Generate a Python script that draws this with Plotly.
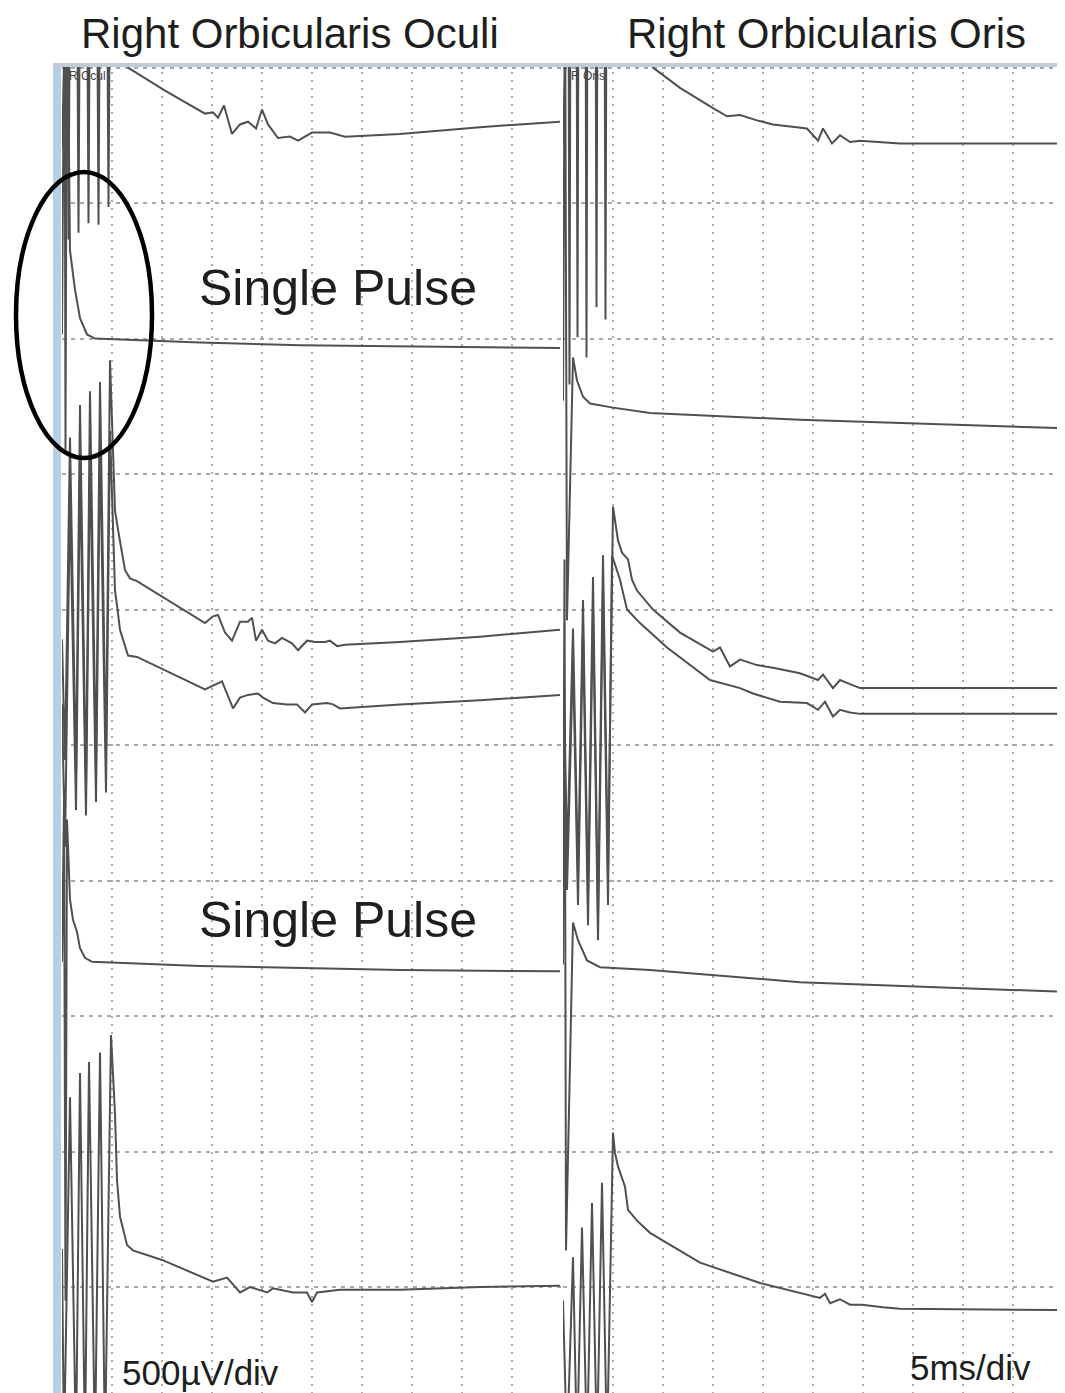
import plotly.graph_objects as go

# ---- Left panel: Right Orbicularis Oculi (time in ms, amplitude in µV incl. channel offset) ----
oculi_train1_t = [0, 0.5, 0.65, 0.8, 1.5, 1.65, 1.8, 2.5, 2.65, 2.8, 3.5, 3.65, 3.8, 4.5, 4.65, 4.8, 6.6, 10.3, 14.3,
                  15.1, 15.6, 16.2, 17.0, 17.8, 18.6, 19.4, 20.0, 20.6, 21.6, 22.8, 23.6, 25.0, 26.8, 28.3, 33.8, 41.8, 49.8]
oculi_train1_v = [-300, 400, -635, 400, 400, -610, 400, 400, -575, 400, 400, -580, 400, 400, -515, 400, 0, -85, -170,
                  -165, -185, -140, -245, -210, -200, -225, -155, -210, -260, -255, -270, -240, -240, -255, -245, -220, -200]

oculi_single1_t = [0, 0.25, 0.35, 0.5, 0.8, 1.3, 1.8, 2.5, 3.3, 13.8, 23.8, 49.8]
oculi_single1_v = [-985, 400, -1410, 400, -675, -820, -925, -985, -1000, -1015, -1025, -1035]

oculi_train2a_t = [0, 0.3, 0.8, 1.4, 1.8, 2.4, 2.8, 3.4, 3.8, 4.4, 4.8, 5.1, 5.3, 5.6, 6.3, 6.8, 7.5, 14.3, 15.1, 15.6,
                   16.3, 17.0, 17.8, 18.6, 19.0, 19.4, 20.0, 20.6, 21.3, 22.0, 23.0, 23.6, 24.5, 25.3, 26.3, 26.8, 27.5,
                   28.3, 33.8, 41.8, 49.8]
oculi_train2a_v = [-2110, -2555, -1365, -2610, -1245, -2665, -1195, -2590, -1160, -2555, -1080, -1450, -1635, -1705,
                   -1855, -1885, -1895, -2050, -2025, -2020, -2085, -2115, -2045, -2045, -2030, -2115, -2075, -2115,
                   -2125, -2105, -2125, -2150, -2115, -2120, -2120, -2115, -2135, -2130, -2120, -2100, -2075]

oculi_train2b_t = [0, 0.3, 0.8, 1.4, 1.8, 2.4, 2.8, 3.4, 3.8, 4.4, 4.8, 5.1, 5.3, 5.5, 5.8, 6.6, 7.5, 14.3, 16.0, 17.1,
                   17.8, 18.6, 19.6, 20.1, 21.1, 22.5, 23.5, 24.3, 25.0, 26.5, 27.1, 27.8, 33.8, 41.8, 49.8]
oculi_train2b_v = [-2350, -2875, -1595, -2740, -1485, -2760, -1435, -2710, -1400, -2675, -1340, -1745, -1930, -1985,
                   -2075, -2170, -2175, -2295, -2265, -2365, -2325, -2315, -2310, -2325, -2345, -2350, -2350, -2380,
                   -2350, -2345, -2350, -2365, -2350, -2335, -2315]

oculi_single2_t = [0, 0.2, 0.35, 0.5, 0.8, 1.1, 1.5, 1.8, 2.3, 3.0, 13.8, 33.8, 49.8]
oculi_single2_v = [-3300, -2705, -4550, -2775, -3070, -3145, -3190, -3250, -3285, -3300, -3315, -3330, -3335]

oculi_train3_t = [0, 0.2, 0.8, 1.4, 1.8, 2.3, 2.7, 3.3, 3.8, 4.3, 4.9, 5.3, 5.5, 5.8, 6.5, 7.1, 10.0, 15.1, 16.5, 17.8,
                  18.8, 20.5, 21.1, 23.1, 24.5, 25.0, 25.5, 26.8, 27.8, 33.8, 41.8, 49.8]
oculi_train3_v = [-4360, -5100, -3800, -5100, -3710, -5100, -3670, -5100, -3635, -5100, -3570, -3860, -4105, -4240,
                  -4345, -4365, -4400, -4480, -4465, -4520, -4500, -4520, -4505, -4520, -4520, -4555, -4520, -4515,
                  -4510, -4510, -4500, -4495]

# ---- Right panel: Right Orbicularis Oris ----
oris_train1_t = [0, 0.55, 0.65, 0.75, 1.35, 1.45, 1.55, 2.25, 2.35, 2.45, 3.25, 3.35, 3.45, 4.15, 4.25, 4.35, 9.0, 11.7,
                 15.0, 16.4, 17.7, 19.4, 21.0, 24.4, 25.5, 26.0, 26.9, 27.7, 28.7, 29.7, 33.7, 49.5]
oris_train1_v = [-280, 400, -1170, 400, 400, -995, 400, 400, -1070, 400, 400, -885, 400, 400, -930, 400, 0, -75,
                 -150, -180, -175, -195, -210, -225, -270, -225, -280, -250, -275, -270, -280, -280]

oris_single1_t = [0, 0.2, 0.4, 1.0, 1.4, 2.0, 2.7, 5.0, 8.7, 23.7, 49.5]
oris_single1_v = [-1230, 400, -2040, -1070, -1155, -1215, -1240, -1255, -1275, -1300, -1330]

oris_train2a_t = [0, 0.1, 0.4, 1.0, 1.5, 2.0, 2.5, 3.0, 3.5, 4.0, 4.5, 5.0, 5.5, 5.9, 6.5, 6.9, 7.4, 9.0, 11.7, 15.0,
                  15.7, 16.7, 17.7, 19.4, 21.0, 23.7, 25.5, 26.0, 27.0, 27.7, 28.7, 29.7, 33.7, 49.5]
oris_train2a_v = [-2295, -2260, -2925, -2070, -2985, -1965, -3070, -1880, -3135, -1800, -2985, -1620, -1745, -1790,
                  -1815, -1890, -1930, -2000, -2085, -2155, -2140, -2210, -2185, -2205, -2215, -2235, -2260, -2240,
                  -2290, -2260, -2275, -2290, -2290, -2290]

oris_train2b_t = [0, 0.1, 0.4, 1.0, 1.5, 2.0, 2.5, 3.0, 3.5, 4.0, 4.5, 4.9, 5.7, 6.4, 7.7, 10.4, 14.7, 17.7, 19.0,
                  21.7, 24.4, 25.5, 26.2, 27.0, 27.7, 28.7, 29.7, 33.7, 49.5]
oris_train2b_v = [-2385, -2350, -3035, -2180, -3090, -2075, -3165, -1990, -3220, -1910, -3090, -1800, -1890, -2000,
                  -2050, -2140, -2260, -2290, -2310, -2340, -2345, -2370, -2340, -2395, -2370, -2380, -2385, -2385,
                  -2385]

oris_single2_t = [0, 0.15, 0.3, 1.0, 1.5, 2.4, 3.7, 8.7, 23.7, 49.5]
oris_single2_v = [-3310, -1815, -4365, -3155, -3220, -3295, -3320, -3330, -3375, -3410]

oris_train3_t = [0, 0.4, 1.0, 1.4, 1.9, 2.4, 2.9, 3.4, 3.9, 4.4, 5.0, 5.2, 5.5, 6.2, 6.5, 7.4, 8.7, 13.7, 19.7, 23.7,
                 25.7, 26.2, 26.7, 27.7, 28.7, 29.9, 32.0, 33.7, 49.5]
oris_train3_v = [-4550, -5100, -4390, -5100, -4280, -5100, -4190, -5100, -4115, -5100, -3930, -4005, -4055, -4130,
                 -4215, -4255, -4300, -4410, -4485, -4520, -4540, -4525, -4560, -4545, -4565, -4565, -4575, -4580,
                 -4585]

panel_titles = ["Right Orbicularis Oculi", "Right Orbicularis Oris"]
channel_labels = ["R Ocul", "R Oris"]
pulse_label = "Single Pulse"
gain_label = "500µV/div"
sweep_label = "5ms/div"

# page is offset by the default 8px body margin -> figure is 8px smaller, page coords shifted
OFF = 8
PAGE_W, PAGE_H = 1065, 1393
W, H = PAGE_W - OFF, PAGE_H - OFF
FONT = "Liberation Sans, Arial, sans-serif"
TRACE = "#505050"


def fx(p):
    return (p - OFF) / W


def fy(p):
    return 1 - (p - OFF) / H


fig = go.Figure()
left = [(oculi_train1_t, oculi_train1_v), (oculi_single1_t, oculi_single1_v),
        (oculi_train2a_t, oculi_train2a_v), (oculi_train2b_t, oculi_train2b_v),
        (oculi_single2_t, oculi_single2_v), (oculi_train3_t, oculi_train3_v)]
right = [(oris_train1_t, oris_train1_v), (oris_single1_t, oris_single1_v),
         (oris_train2a_t, oris_train2a_v), (oris_train2b_t, oris_train2b_v),
         (oris_single2_t, oris_single2_v), (oris_train3_t, oris_train3_v)]
for t, v in left:
    fig.add_trace(go.Scatter(x=t, y=v, mode="lines", line=dict(color=TRACE, width=2),
                             xaxis="x", yaxis="y", showlegend=False, hoverinfo="skip"))
for t, v in right:
    fig.add_trace(go.Scatter(x=t, y=v, mode="lines", line=dict(color=TRACE, width=2),
                             xaxis="x2", yaxis="y2", showlegend=False, hoverinfo="skip"))

ydom = [0, fy(64)]
yrange = [-4891, 13]
xgrid = dict(showgrid=True, gridcolor="#a9a9a9", gridwidth=1.6, griddash="2px,6px",
             zeroline=False, showticklabels=False, ticks="", showline=False, dtick=5, tick0=0)
ygrid = dict(showgrid=True, gridcolor="#a9a9a9", gridwidth=1.6, griddash="4px,5px",
             zeroline=False, showticklabels=False, ticks="", showline=False, dtick=500, tick0=0,
             range=yrange, domain=ydom)

fig.update_layout(
    width=W, height=H, margin=dict(l=0, r=0, t=0, b=0),
    paper_bgcolor="white", plot_bgcolor="white",
    xaxis=dict(domain=[fx(62), fx(562)], range=[0, 50], anchor="y", **xgrid),
    xaxis2=dict(domain=[fx(563), fx(1058)], range=[0, 49.5], anchor="y2", **xgrid),
    yaxis=dict(anchor="x", **ygrid),
    yaxis2=dict(anchor="x2", **ygrid),
    font=dict(family=FONT, color="#222222"),
)

shapes = [
    dict(type="rect", xref="paper", yref="paper", x0=fx(53), x1=fx(61), y0=0, y1=fy(63),
         fillcolor="#b7cfe4", line=dict(width=0), layer="above"),
    dict(type="rect", xref="paper", yref="paper", x0=fx(53), x1=fx(1058), y0=fy(67), y1=fy(63),
         fillcolor="#c3ccd6", line=dict(width=0), layer="above"),
    dict(type="circle", xref="paper", yref="paper", x0=fx(16), x1=fx(152), y0=fy(458), y1=fy(172),
         line=dict(color="black", width=4.5), fillcolor="rgba(0,0,0,0)", layer="above"),
]
fig.update_layout(shapes=shapes)

ann = [
    dict(text=panel_titles[0], x=fx(290), y=fy(33), size=42),
    dict(text=panel_titles[1], x=fx(826), y=fy(33), size=42),
    dict(text=pulse_label, x=fx(338), y=fy(288), size=50),
    dict(text=pulse_label, x=fx(338), y=fy(920), size=50),
    dict(text=gain_label, x=fx(200), y=fy(1372), size=35),
    dict(text=sweep_label, x=fx(970), y=fy(1367), size=35),
    dict(text=channel_labels[0], x=fx(87), y=fy(76), size=12, color="#444444"),
    dict(text=channel_labels[1], x=fx(588), y=fy(76), size=12, color="#444444"),
]
for a in ann:
    fig.add_annotation(text=a["text"], x=a["x"], y=a["y"], xref="paper", yref="paper",
                       xanchor="center", yanchor="middle", showarrow=False,
                       font=dict(family=FONT, size=a["size"], color=a.get("color", "#1e1e1e")))

fig.write_html("out.html")
